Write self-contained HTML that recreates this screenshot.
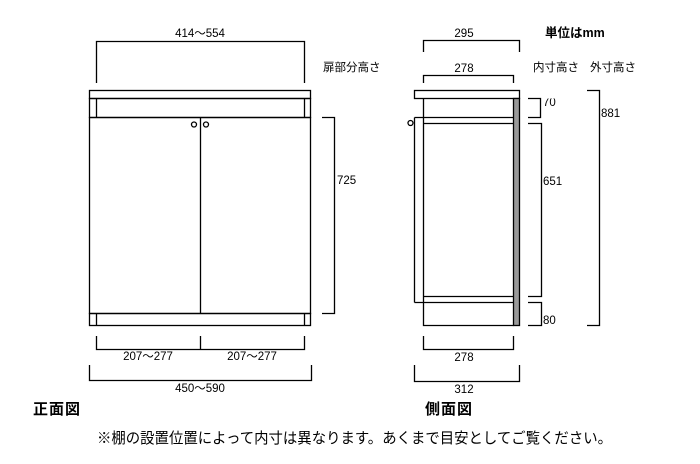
<!DOCTYPE html>
<html><head><meta charset="utf-8"><style>
html,body{margin:0;padding:0;background:#fff;}
svg{display:block;}
text{font-family:"Liberation Sans","Noto Sans CJK JP",sans-serif;fill:#000;}
</style></head><body>
<svg width="700" height="464" viewBox="0 0 700 464" xmlns="http://www.w3.org/2000/svg">
<defs><clipPath id="c70"><rect x="540" y="98.5" width="30" height="20"/></clipPath></defs>
<g fill="none" stroke="#000" stroke-width="1.3">
<!-- FRONT -->
<path d="M96.5 83V41.5H304.5V83"/>
<rect x="89.5" y="90.5" width="221" height="8"/>
<rect x="89.5" y="98.5" width="221" height="19"/>
<line x1="96.5" y1="98.5" x2="96.5" y2="117.5"/>
<line x1="304.5" y1="98.5" x2="304.5" y2="117.5"/>
<rect x="89.5" y="117.5" width="221" height="196"/>
<line x1="200.5" y1="117.5" x2="200.5" y2="313.5"/>
<circle cx="194" cy="124.5" r="2.5"/>
<circle cx="206" cy="124.5" r="2.5"/>
<rect x="89.5" y="313.5" width="221" height="12"/>
<line x1="96.5" y1="313.5" x2="96.5" y2="325.5"/>
<line x1="304.5" y1="313.5" x2="304.5" y2="325.5"/>
<path d="M322 117.5H334.5V313.5H322"/>
<path d="M96.5 336V349.5H304.5V336M200.5 336V349.5"/>
<path d="M89.5 365V380.5H311.5V365"/>
<!-- SIDE -->
<path d="M423.5 52V40.5H519.5V52"/>
<path d="M423.5 83V75.5H513.5V83"/>
<rect x="414.5" y="90.5" width="105" height="8"/>
<rect x="513.5" y="98.5" width="6" height="227" fill="#999"/>
<path d="M423.5 98.5V325.5H513.5"/>
<path d="M414.5 117.5H513.5M423.5 123.5H513.5M423.5 296.5H513.5M414.5 302.5H513.5"/>
<path d="M414.5 117.5V302.5"/>
<circle cx="410.5" cy="123" r="2.5"/>
<path d="M528 98.5H540.5V117.5H528"/>
<path d="M528 123.5H541.5V296.5H528"/>
<path d="M528 302.5H541.5V325.5H528"/>
<path d="M587 90.5H599.5V325.5H587"/>
<path d="M423.5 336V349.5H513.5V336"/>
<path d="M414.5 365V381.5H519.5V365"/>
</g>
<g font-size="11.5">
<text x="200" y="37" text-anchor="middle">414～554</text>
<text x="323" y="71">扉部分高さ</text>
<text x="337" y="184">725</text>
<text x="148" y="360" text-anchor="middle">207～277</text>
<text x="252" y="360" text-anchor="middle">207～277</text>
<text x="200" y="392" text-anchor="middle">450～590</text>
<text x="464" y="37" text-anchor="middle">295</text>
<text x="464" y="72" text-anchor="middle">278</text>
<text x="533" y="71">内寸高さ</text>
<text x="590" y="71">外寸高さ</text>
<text x="543" y="106" clip-path="url(#c70)">70</text>
<text x="543" y="185">651</text>
<text x="601" y="117">881</text>
<text x="543" y="324">80</text>
<text x="464" y="361" text-anchor="middle">278</text>
<text x="464" y="393" text-anchor="middle">312</text>
</g>
<text x="545" y="37" font-size="12.5" font-weight="bold">単位はmm</text>
<text x="33" y="414" font-size="15" font-weight="bold" letter-spacing="1">正面図</text>
<text x="425" y="414" font-size="15" font-weight="bold" letter-spacing="1">側面図</text>
<text x="97" y="443" font-size="15" textLength="515" lengthAdjust="spacingAndGlyphs">※棚の設置位置によって内寸は異なります。あくまで目安としてご覧ください。</text>
</svg>
</body></html>
